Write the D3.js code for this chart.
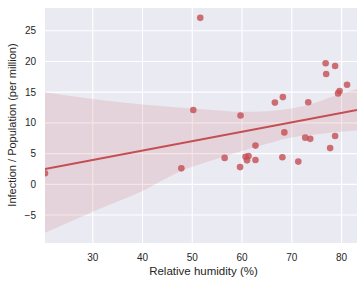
<!DOCTYPE html>
<html><head><meta charset="utf-8">
<script src="https://cdn.jsdelivr.net/npm/d3@7/dist/d3.min.js"></script>
<style>body{margin:0;background:#fff}svg{display:block}text{font-family:"Liberation Sans",Arial,sans-serif;fill:#262626}</style>
</head><body><svg id="c" width="357" height="283"></svg>
<script>
const humidity = [20.4,47.8,50.2,51.6,56.5,59.6,59.7,60.7,61.3,61.0,62.7,62.7,66.6,68.1,68.2,68.5,71.3,72.7,73.3,73.7,76.8,76.9,77.7,78.7,78.7,79.3,79.6,81.1];
const infection = [1.8,2.6,12.1,27.1,4.3,2.8,11.2,4.5,4.6,3.9,3.95,6.3,13.3,4.4,14.2,8.45,3.7,7.6,13.35,7.4,19.7,17.95,5.9,19.25,7.86,14.8,15.2,16.2];
const bandX = [20.4,30,40,47.3,54,60.3,65,69.6,75.5,79,83.1];
const bandUpper = [15.0,13.9,13.0,12.5,12.1,11.8,11.9,12.3,13.5,14.5,15.5];
const bandLower = [-7.9,-4.45,-1.1,2.0,3.9,5.5,6.6,7.6,8.2,8.5,8.8];
const fitX = [20.4,83.1];
const fitY = [2.5,12.1];
const xTicks = [30,40,50,60,70,80];
const yTicks = [-5,0,5,10,15,20,25];

const L=45,R=357,T=8,B=243;
const svg=d3.select("#c");
const x=d3.scaleLinear().domain([20.4,83.1]).range([L,R]);
const y=d3.scaleLinear().domain([-9.55,28.7]).range([B,T]);
const red="#C44E52";

svg.append("defs").append("clipPath").attr("id","clip").append("rect").attr("x",L).attr("y",T).attr("width",R-L).attr("height",B-T);
svg.append("rect").attr("x",L).attr("y",T).attr("width",R-L).attr("height",B-T).attr("fill","#EAEAF2");
const g=svg.append("g");
g.selectAll(".gx").data(xTicks).join("line").attr("x1",d=>x(d)).attr("x2",d=>x(d)).attr("y1",T).attr("y2",B).attr("stroke","#fff").attr("stroke-width",1.1);
g.selectAll(".gy").data(yTicks).join("line").attr("y1",d=>y(d)).attr("y2",d=>y(d)).attr("x1",L).attr("x2",R).attr("stroke","#fff").attr("stroke-width",1.1);

const plot=svg.append("g").attr("clip-path","url(#clip)");
const band=bandX.map((v,i)=>({x:v,lo:bandLower[i],hi:bandUpper[i]}));
plot.append("path").datum(band).attr("d",d3.area().x(d=>x(d.x)).y0(d=>y(d.lo)).y1(d=>y(d.hi)).curve(d3.curveMonotoneX)).attr("fill",red).attr("fill-opacity",0.15);
plot.selectAll("circle").data(humidity.map((v,i)=>[v,infection[i]])).join("circle").attr("cx",d=>x(d[0])).attr("cy",d=>y(d[1])).attr("r",3.3).attr("fill",red).attr("fill-opacity",0.8);
plot.append("path").datum(fitX.map((v,i)=>[v,fitY[i]])).attr("d",d3.line().x(d=>x(d[0])).y(d=>y(d[1]))).attr("stroke",red).attr("stroke-width",2).attr("fill","none");

svg.selectAll(".tx").data(xTicks).join("text").attr("x",d=>x(d)).attr("y",261).attr("text-anchor","middle").attr("font-size",10).text(d=>d);
svg.selectAll(".ty").data(yTicks).join("text").attr("x",36).attr("y",d=>y(d)+3.6).attr("text-anchor","end").attr("font-size",10).text(d=>d<0?"\u2212"+Math.abs(d):d);
svg.append("text").attr("x",203.5).attr("y",275).attr("text-anchor","middle").attr("font-size",11.5).text("Relative humidity (%)");
svg.append("text").attr("transform","translate(16,125) rotate(-90)").attr("text-anchor","middle").attr("font-size",11).text("Infection / Population (per million)");
</script></body></html>
